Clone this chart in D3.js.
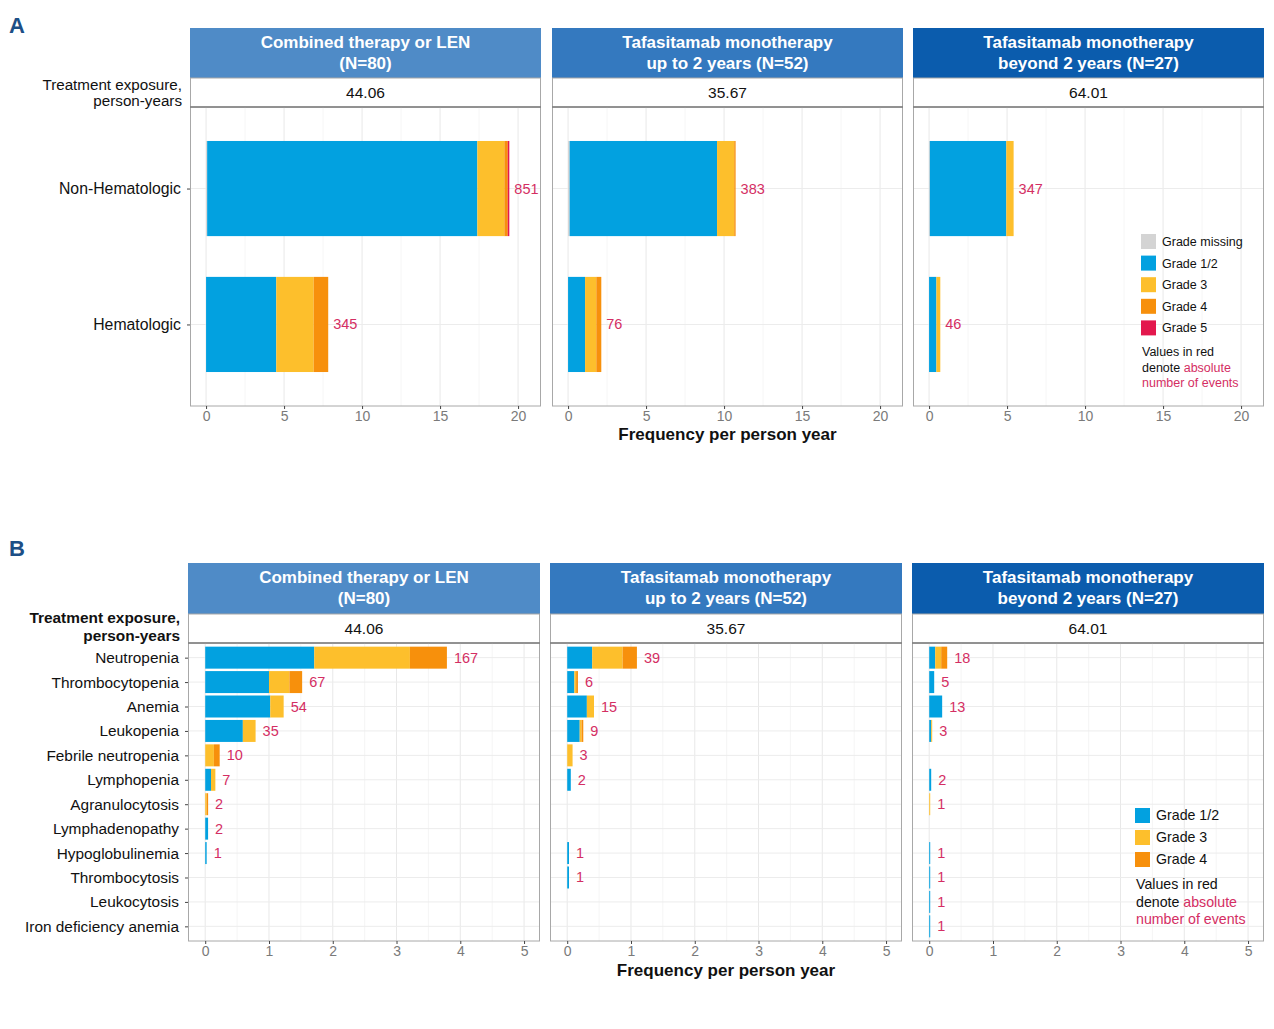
<!DOCTYPE html>
<html>
<head>
<meta charset="utf-8">
<script src="https://cdn.jsdelivr.net/npm/d3@7"></script>
<style>
  html, body { margin: 0; padding: 0; background: #fff; }
  svg { display: block; font-family: "Liberation Sans", Arial, sans-serif; }
</style>
</head>
<body>
<svg id="chart" width="1274" height="1029"></svg>
<script>
// ---------------- DATA ----------------
const groupTitles = [
  ["Combined therapy or LEN", "(N=80)"],
  ["Tafasitamab monotherapy", "up to 2 years (N=52)"],
  ["Tafasitamab monotherapy", "beyond 2 years (N=27)"]
];
const exposure = ["44.06", "35.67", "64.01"];

// Panel A
const gradesA = ["Grade missing", "Grade 1/2", "Grade 3", "Grade 4", "Grade 5"];
const categoriesA = ["Non-Hematologic", "Hematologic"];
// frequency per person-year, [group][category]
const missingA = [[0.07, 0.00], [0.10, 0.00], [0.05, 0.00]];
const g12A     = [[17.32, 4.50], [9.45, 1.09], [4.90, 0.47]];
const g3A      = [[1.73, 2.40], [1.10, 0.72], [0.47, 0.25]];
const g4A      = [[0.22, 0.93], [0.09, 0.32], [0.00, 0.00]];
const g5A      = [[0.10, 0.00], [0.00, 0.00], [0.00, 0.00]];
const countsA  = [[851, 345], [383, 76], [347, 46]];
const ticksA = [0, 5, 10, 15, 20];

// Panel B
const gradesB = ["Grade 1/2", "Grade 3", "Grade 4"];
const categoriesB = ["Neutropenia", "Thrombocytopenia", "Anemia", "Leukopenia",
  "Febrile neutropenia", "Lymphopenia", "Agranulocytosis", "Lymphadenopathy",
  "Hypoglobulinemia", "Thrombocytosis", "Leukocytosis", "Iron deficiency anemia"];
const g12B = [
  [1.71, 1.00, 1.02, 0.59, 0.00, 0.091, 0.000, 0.045, 0.0227, 0, 0, 0],
  [0.392, 0.112, 0.308, 0.196, 0.000, 0.056, 0, 0, 0.028, 0.028, 0, 0],
  [0.094, 0.078, 0.203, 0.031, 0, 0.031, 0, 0, 0.0156, 0.0156, 0.0156, 0.0156]
];
const g3B = [
  [1.50, 0.32, 0.21, 0.20, 0.136, 0.068, 0.0227, 0, 0, 0, 0, 0],
  [0.477, 0.028, 0.112, 0.028, 0.084, 0, 0, 0, 0, 0, 0, 0],
  [0.094, 0, 0, 0.0156, 0, 0, 0.0156, 0, 0, 0, 0, 0]
];
const g4B = [
  [0.58, 0.20, 0, 0, 0.091, 0, 0.0227, 0, 0, 0, 0, 0],
  [0.224, 0.028, 0, 0.028, 0, 0, 0, 0, 0, 0, 0, 0],
  [0.094, 0, 0, 0, 0, 0, 0, 0, 0, 0, 0, 0]
];
const countsB = [
  [167, 67, 54, 35, 10, 7, 2, 2, 1, null, null, null],
  [39, 6, 15, 9, 3, 2, null, null, 1, 1, null, null],
  [18, 5, 13, 3, null, 2, 1, null, 1, 1, 1, 1]
];
const ticksB = [0, 1, 2, 3, 4, 5];

// ---------------- STYLE ----------------
const gradeColor = {
  "Grade missing": "#d4d4d4",
  "Grade 1/2": "#02a1e0",
  "Grade 3": "#fdbf2c",
  "Grade 4": "#f7900c",
  "Grade 5": "#e3184d"
};
const stripColors = ["#4f8bc7", "#3479bf", "#0b5cad"];
const red = "#d42e63";
const svg = d3.select("#chart");

function drawPanelSet(cfg) {
  const g = svg.append("g");
  // panel label
  svg.append("text").attr("x", 9).attr("y", cfg.labelY).attr("font-size", 22)
    .attr("font-weight", "bold").attr("fill", "#1d4f86").text(cfg.letter);

  // exposure label
  const expT = svg.append("text").attr("text-anchor", "end").attr("font-size", cfg.expFont)
    .attr("font-weight", cfg.expBold ? "bold" : "normal").attr("fill", "#111");
  expT.append("tspan").attr("x", cfg.labelRight).attr("y", cfg.expY1).text("Treatment exposure,");
  expT.append("tspan").attr("x", cfg.labelRight).attr("y", cfg.expY2).text("person-years");

  const y = d3.scalePoint().domain(cfg.categories).range([cfg.plotTop, cfg.plotBottom]).padding(0.6);
  const bh = y.step() * cfg.barFrac;

  cfg.panels.forEach((px, i) => {
    const x = d3.scaleLinear().domain(cfg.domain).range(px);
    const pg = g.append("g");
    // strip
    pg.append("rect").attr("x", px[0]).attr("y", cfg.stripTop).attr("width", px[1] - px[0])
      .attr("height", cfg.expTop - cfg.stripTop).attr("fill", stripColors[i]);
    const st = pg.append("text").attr("text-anchor", "middle").attr("fill", "#fff")
      .attr("font-weight", "bold").attr("font-size", 17);
    st.append("tspan").attr("x", (px[0] + px[1]) / 2).attr("y", cfg.stripTop + 20).text(groupTitles[i][0]);
    st.append("tspan").attr("x", (px[0] + px[1]) / 2).attr("y", cfg.stripTop + 41).text(groupTitles[i][1]);
    // exposure row
    pg.append("rect").attr("x", px[0] + 0.5).attr("y", cfg.expTop).attr("width", px[1] - px[0] - 1)
      .attr("height", cfg.plotTop - cfg.expTop).attr("fill", "#fff").attr("stroke", "#a8a8a8");
    pg.append("text").attr("x", (px[0] + px[1]) / 2).attr("y", (cfg.expTop + cfg.plotTop) / 2 + 5.5)
      .attr("text-anchor", "middle").attr("font-size", 15.5).attr("fill", "#111").text(exposure[i]);

    // grid
    const minor = [];
    for (let k = 0; k < cfg.ticks.length - 1; k++) minor.push((cfg.ticks[k] + cfg.ticks[k + 1]) / 2);
    minor.push(cfg.ticks[cfg.ticks.length - 1] + (cfg.ticks[1] - cfg.ticks[0]) / 2);
    pg.selectAll(".minor").data(minor.filter(v => x(v) < px[1])).join("line")
      .attr("x1", d => x(d)).attr("x2", d => x(d)).attr("y1", cfg.plotTop).attr("y2", cfg.plotBottom)
      .attr("stroke", "#f3f3f3").attr("stroke-width", 0.8);
    pg.selectAll(".major").data(cfg.ticks).join("line")
      .attr("x1", d => x(d)).attr("x2", d => x(d)).attr("y1", cfg.plotTop).attr("y2", cfg.plotBottom)
      .attr("stroke", "#e8e8e8").attr("stroke-width", 1);
    pg.selectAll(".hgrid").data(cfg.categories).join("line")
      .attr("x1", px[0]).attr("x2", px[1]).attr("y1", d => y(d)).attr("y2", d => y(d))
      .attr("stroke", "#ececec").attr("stroke-width", 1);

    // bars
    const rows = cfg.categories.map((c, j) => {
      const r = { cat: c };
      cfg.grades.forEach((gr, k) => { r[gr] = cfg.values[k][i][j]; });
      return r;
    });
    const series = d3.stack().keys(cfg.grades)(rows);
    series.forEach(s => {
      pg.append("g").selectAll("rect").data(s.filter(d => d[1] - d[0] > 0)).join("rect")
        .attr("x", d => x(d[0])).attr("width", d => Math.max(0.8, x(d[1]) - x(d[0])))
        .attr("y", d => y(d.data.cat) - bh / 2).attr("height", bh)
        .attr("fill", gradeColor[s.key]);
    });
    // counts
    const top = series[series.length - 1];
    pg.append("g").selectAll("text").data(top.map((d, j) => ({ v: d[1], c: cfg.counts[i][j], cat: d.data.cat }))
      .filter(d => d.c != null)).join("text")
      .attr("x", d => x(d.v) + cfg.labelNudge).attr("y", d => y(d.cat) + 5)
      .attr("font-size", 14.5).attr("fill", red).text(d => d.c);

    // panel border
    pg.append("rect").attr("x", px[0] + 0.5).attr("y", cfg.plotTop).attr("width", px[1] - px[0] - 1)
      .attr("height", cfg.plotBottom - cfg.plotTop).attr("fill", "none").attr("stroke", "#a8a8a8");
    pg.append("line").attr("x1", px[0]).attr("x2", px[1]).attr("y1", cfg.plotTop).attr("y2", cfg.plotTop)
      .attr("stroke", "#666").attr("stroke-width", 1.2);

    // x axis
    const ax = pg.append("g").attr("transform", `translate(0,${cfg.plotBottom})`)
      .call(d3.axisBottom(x).tickValues(cfg.ticks).tickSize(3).tickPadding(2).tickFormat(d3.format("d")));
    ax.select(".domain").remove();
    ax.selectAll("line").attr("stroke", "#444");
    ax.selectAll("text").attr("font-size", 14).attr("fill", "#7a7a7a")
      .attr("font-family", "Liberation Sans, Arial, sans-serif");
  });

  // y axis
  const ay = g.append("g").attr("transform", `translate(${cfg.panels[0][0]},0)`)
    .call(d3.axisLeft(y).tickSize(3).tickPadding(cfg.catPad));
  ay.select(".domain").remove();
  ay.selectAll("line").attr("stroke", "#444");
  ay.selectAll("text").attr("font-size", cfg.catFont).attr("fill", "#111")
    .attr("font-family", "Liberation Sans, Arial, sans-serif");

  // x title
  svg.append("text").attr("x", (cfg.panels[1][0] + cfg.panels[1][1]) / 2).attr("y", cfg.titleY)
    .attr("text-anchor", "middle").attr("font-size", 17).attr("font-weight", "bold")
    .attr("fill", "#111").text("Frequency per person year");

  // legend
  const lg = svg.append("g");
  cfg.legendGrades.forEach((gr, k) => {
    const cy = cfg.legend.y + k * cfg.legend.step;
    lg.append("rect").attr("x", cfg.legend.x).attr("y", cy - 7).attr("width", 15).attr("height", 15)
      .attr("fill", gradeColor[gr]);
    lg.append("text").attr("x", cfg.legend.x + 21).attr("y", cy + 5).attr("font-size", cfg.legend.font)
      .attr("fill", "#111").text(gr);
  });
  const ny = cfg.legend.noteY;
  const lx = cfg.legend.x + 1;
  lg.append("text").attr("x", lx).attr("y", ny).attr("font-size", cfg.legend.font).attr("fill", "#111")
    .text("Values in red");
  const t2 = lg.append("text").attr("x", lx).attr("y", ny + cfg.legend.lh).attr("font-size", cfg.legend.font);
  t2.append("tspan").attr("fill", "#111").text("denote ");
  t2.append("tspan").attr("fill", red).text("absolute");
  lg.append("text").attr("x", lx).attr("y", ny + 2 * cfg.legend.lh).attr("font-size", cfg.legend.font)
    .attr("fill", red).text("number of events");
}

drawPanelSet({
  letter: "A", labelY: 33,
  panels: [[190, 541], [552, 903], [913, 1264]],
  stripTop: 28, expTop: 78, plotTop: 107, plotBottom: 406,
  domain: [-1.03, 21.47], ticks: ticksA,
  categories: categoriesA, grades: gradesA,
  values: [missingA, g12A, g3A, g4A, g5A], counts: countsA,
  barFrac: 0.7, labelNudge: 5, catFont: 15.8, catPad: 6,
  labelRight: 182, expY1: 90, expY2: 106, expFont: 15.2, expBold: false,
  titleY: 440,
  legendGrades: gradesA,
  legend: { x: 1141, y: 241, step: 21.6, font: 12.5, noteY: 356, lh: 15.5 }
});

drawPanelSet({
  letter: "B", labelY: 556,
  panels: [[188, 540], [550, 902], [912, 1264]],
  stripTop: 563, expTop: 614, plotTop: 643, plotBottom: 941,
  domain: [-0.27, 5.25], ticks: ticksB,
  categories: categoriesB, grades: gradesB,
  values: [g12B, g3B, g4B], counts: countsB,
  barFrac: 0.9, labelNudge: 7, catFont: 15.4, catPad: 6,
  labelRight: 180, expY1: 623, expY2: 641, expFont: 15.4, expBold: true,
  titleY: 976,
  legendGrades: gradesB,
  legend: { x: 1135, y: 815, step: 22, font: 14.2, noteY: 889, lh: 17.5 }
});
</script>
</body>
</html>
